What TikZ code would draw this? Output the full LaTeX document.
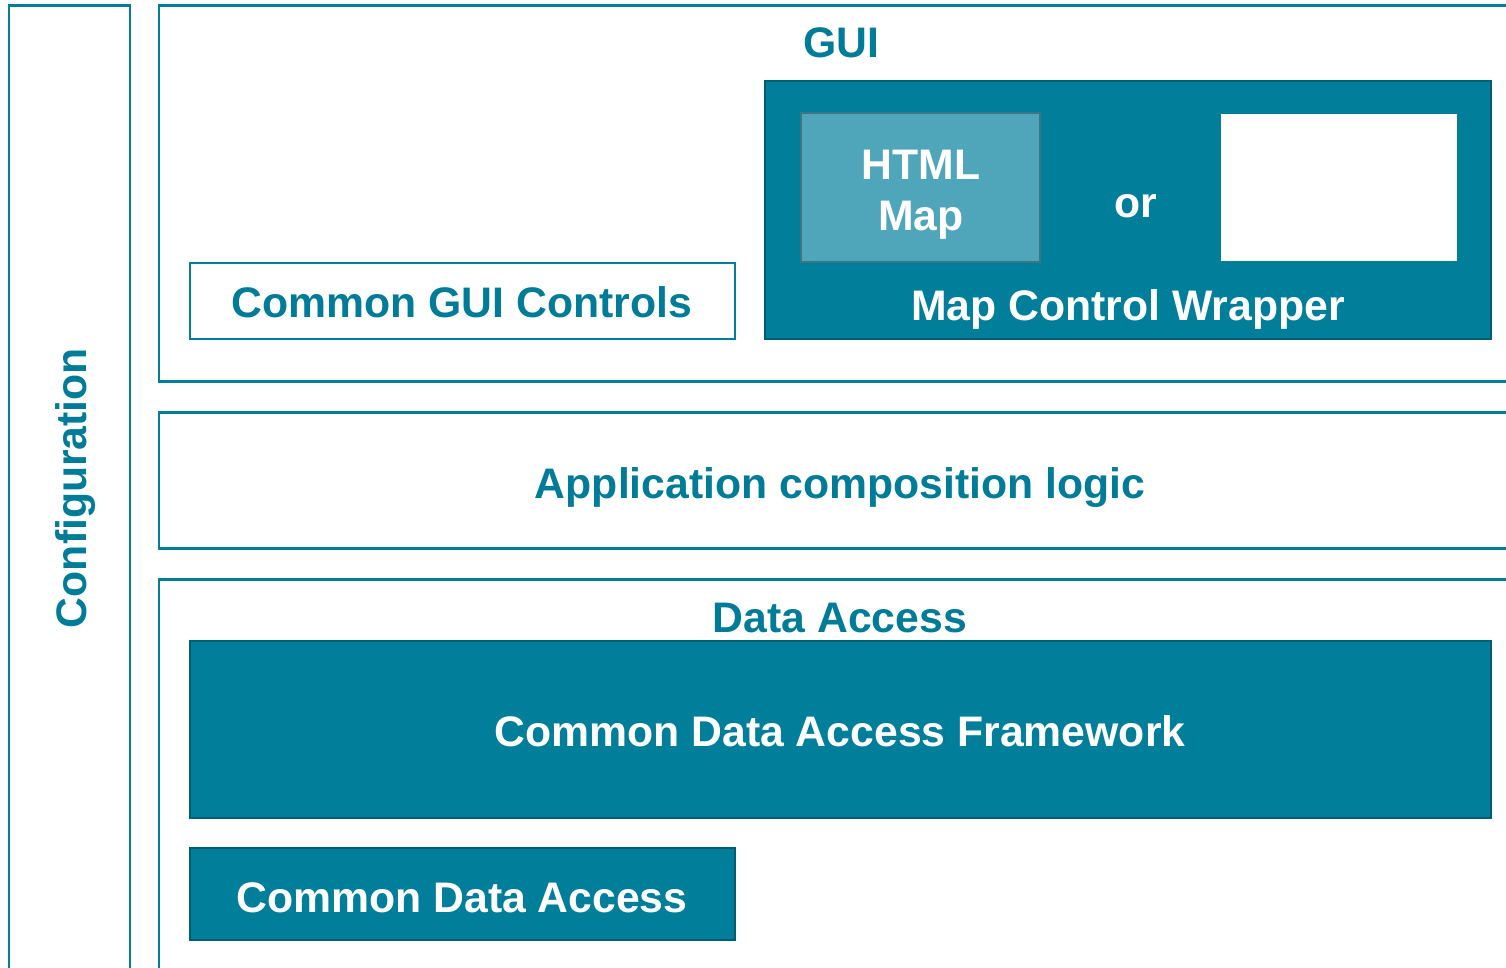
\documentclass[tikz,border=0pt]{standalone}
\usepackage{fontspec}
\setmainfont{Liberation Sans}
\definecolor{teal1}{HTML}{007E9A}
\definecolor{tealdk}{HTML}{005E73}
\definecolor{tealtxt}{HTML}{007C98}
\definecolor{htmlfill}{HTML}{4FA5B9}
\definecolor{htmlbrd}{HTML}{3D7585}
\begin{document}
\begin{tikzpicture}[x=0.01cm,y=-0.01cm,
  frame/.style={draw=teal1,line width=0.85pt},
  openbox/.style={draw=teal1,line width=0.6pt,fill=white},
  filledbox/.style={draw=tealdk,line width=0.6pt,fill=teal1},
  lbl/.style={font=\fontsize{12.15}{14.6}\selectfont\bfseries,inner sep=0pt,anchor=base},
  tlbl/.style={lbl,text=tealtxt},
  wlbl/.style={lbl,text=white}]
\useasboundingbox (0,0) rectangle (1506,968);
% outer frames
\draw[frame] (9,975) -- (9,6) -- (130,6) -- (130,975);
\draw[frame] (1515,6) -- (159,6) -- (159,382) -- (1515,382);
\draw[frame] (1515,413) -- (159,413) -- (159,549) -- (1515,549);
\draw[frame] (1515,580) -- (159,580) -- (159,975);
% labels of frames
\node[tlbl,rotate=90] (config) at (86,488) {Configuration};
\node[tlbl] (gui) at (841,58) {GUI};
\node[tlbl] (acl) at (840,499) {Application composition logic};
\node[tlbl] (da) at (840,633) {Data Access};
% GUI contents
\draw[openbox] (190,263) rectangle (735,339);
\node[tlbl] (cgc) at (462,318) {Common GUI Controls};
\draw[filledbox] (765,81) rectangle (1491,339);
\draw[draw=htmlbrd,line width=0.6pt,fill=htmlfill] (801,113) rectangle (1040,262);
\node[wlbl] (html) at (921,180) {HTML};
\node[wlbl] (map) at (921,231) {Map};
\node[wlbl] (or) at (1136,218) {or};
\fill[white] (1221,114) rectangle (1457,261);
\node[wlbl] (mcw) at (1128,321) {Map Control Wrapper};
% Data access contents
\draw[filledbox] (190,641) rectangle (1491,818);
\node[wlbl] (cdaf) at (840,747) {Common Data Access Framework};
\draw[filledbox] (190,848) rectangle (735,940);
\node[wlbl] (cda) at (462,913) {Common Data Access};
\end{tikzpicture}
\end{document}
